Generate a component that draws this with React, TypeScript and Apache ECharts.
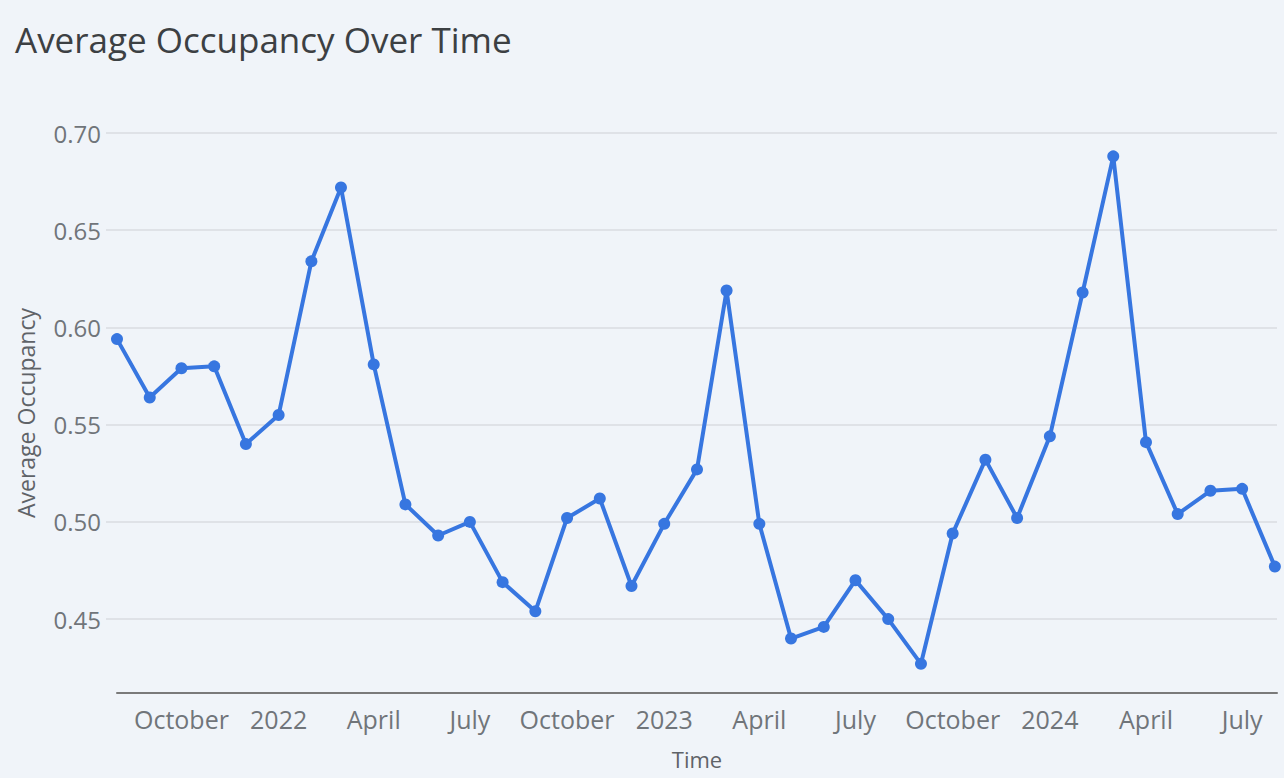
import React, { useEffect, useRef } from "react";
import * as echarts from "echarts";

const months = [
  "2021-08", "2021-09", "2021-10", "2021-11", "2021-12",
  "2022-01", "2022-02", "2022-03", "2022-04", "2022-05", "2022-06",
  "2022-07", "2022-08", "2022-09", "2022-10", "2022-11", "2022-12",
  "2023-01", "2023-02", "2023-03", "2023-04", "2023-05", "2023-06",
  "2023-07", "2023-08", "2023-09", "2023-10", "2023-11", "2023-12",
  "2024-01", "2024-02", "2024-03", "2024-04", "2024-05", "2024-06",
  "2024-07", "2024-08",
];

const occupancy = [
  0.594, 0.564, 0.579, 0.580, 0.540,
  0.555, 0.634, 0.672, 0.581, 0.509, 0.493,
  0.500, 0.469, 0.454, 0.502, 0.512, 0.467,
  0.499, 0.527, 0.619, 0.499, 0.440, 0.446,
  0.470, 0.450, 0.427, 0.494, 0.532, 0.502,
  0.544, 0.618, 0.688, 0.541, 0.504, 0.516,
  0.517, 0.477,
];

const xTickMonths = [
  "2021-10", "2022-01", "2022-04", "2022-07", "2022-10",
  "2023-01", "2023-04", "2023-07", "2023-10",
  "2024-01", "2024-04", "2024-07",
];

const yTicks = [0.45, 0.5, 0.55, 0.6, 0.65, 0.7];

const monthNames = [
  "January", "February", "March", "April", "May", "June",
  "July", "August", "September", "October", "November", "December",
];

function toTime(m: string): number {
  const [y, mo] = m.split("-").map(Number);
  return new Date(y, mo - 1, 1).getTime();
}

export default function App() {
  const ref = useRef<HTMLDivElement>(null);

  useEffect(() => {
    if (!ref.current) return;
    const chart = echarts.init(ref.current, null, { renderer: "svg" });
    const font = "'Open Sans', Roboto, sans-serif";
    const labelColor = "#70757a";
    const gridColor = "#dadce0";
    chart.setOption({
      animation: false,
      backgroundColor: "#f0f4f9",
      title: {
        text: "Average Occupancy Over Time",
        left: 10,
        top: 17,
        textStyle: {
          fontFamily: font,
          fontSize: 35,
          fontWeight: "normal",
          color: "#3c4043",
        },
      },
      grid: { left: 117, right: 7, top: 133, bottom: 85, containLabel: false },
      xAxis: {
        type: "value",
        min: new Date(2021, 7, 1).getTime(),
        max: new Date(2024, 7, 3).getTime(),
        name: "Time",
        nameLocation: "middle",
        nameGap: 55,
        nameTextStyle: { fontFamily: font, fontSize: 22, color: "#5f6368" },
        axisLine: { show: true, lineStyle: { color: "#7a7a7a", width: 2 } },
        axisTick: { show: false },
        splitLine: { show: false },
        axisLabel: {
          customValues: xTickMonths.map(toTime),
          fontFamily: font,
          fontSize: 25,
          color: labelColor,
          margin: 13,
          hideOverlap: false,
          formatter: (v: number) => {
            const d = new Date(v);
            return d.getMonth() === 0 ? String(d.getFullYear()) : monthNames[d.getMonth()];
          },
        },
      },
      yAxis: {
        type: "value",
        min: 0.412,
        max: 0.7,
        name: "Average Occupancy",
        nameLocation: "middle",
        nameGap: 80,
        nameTextStyle: { fontFamily: font, fontSize: 23, color: "#5f6368" },
        axisLine: { show: false },
        axisTick: {
          show: true,
          customValues: yTicks,
          length: 11,
          lineStyle: { color: gridColor, width: 1.5 },
        },
        splitLine: { show: true, lineStyle: { color: gridColor, width: 1.5 } },
        axisLabel: {
          customValues: yTicks,
          fontFamily: font,
          fontSize: 24,
          color: labelColor,
          margin: 16,
          formatter: (v: number) => v.toFixed(2),
        },
      },
      series: [
        {
          type: "line",
          data: months.map((m, i) => [toTime(m), occupancy[i]]),
          symbol: "circle",
          symbolSize: 12,
          showAllSymbol: true,
          lineStyle: { color: "#3776e0", width: 4 },
          itemStyle: { color: "#3776e0" },
          clip: true,
        },
      ],
    });
    return () => chart.dispose();
  }, []);

  return (
    <div
      ref={ref}
      style={{ position: "fixed", left: 0, top: 0, width: 1284, height: 778 }}
    />
  );
}
